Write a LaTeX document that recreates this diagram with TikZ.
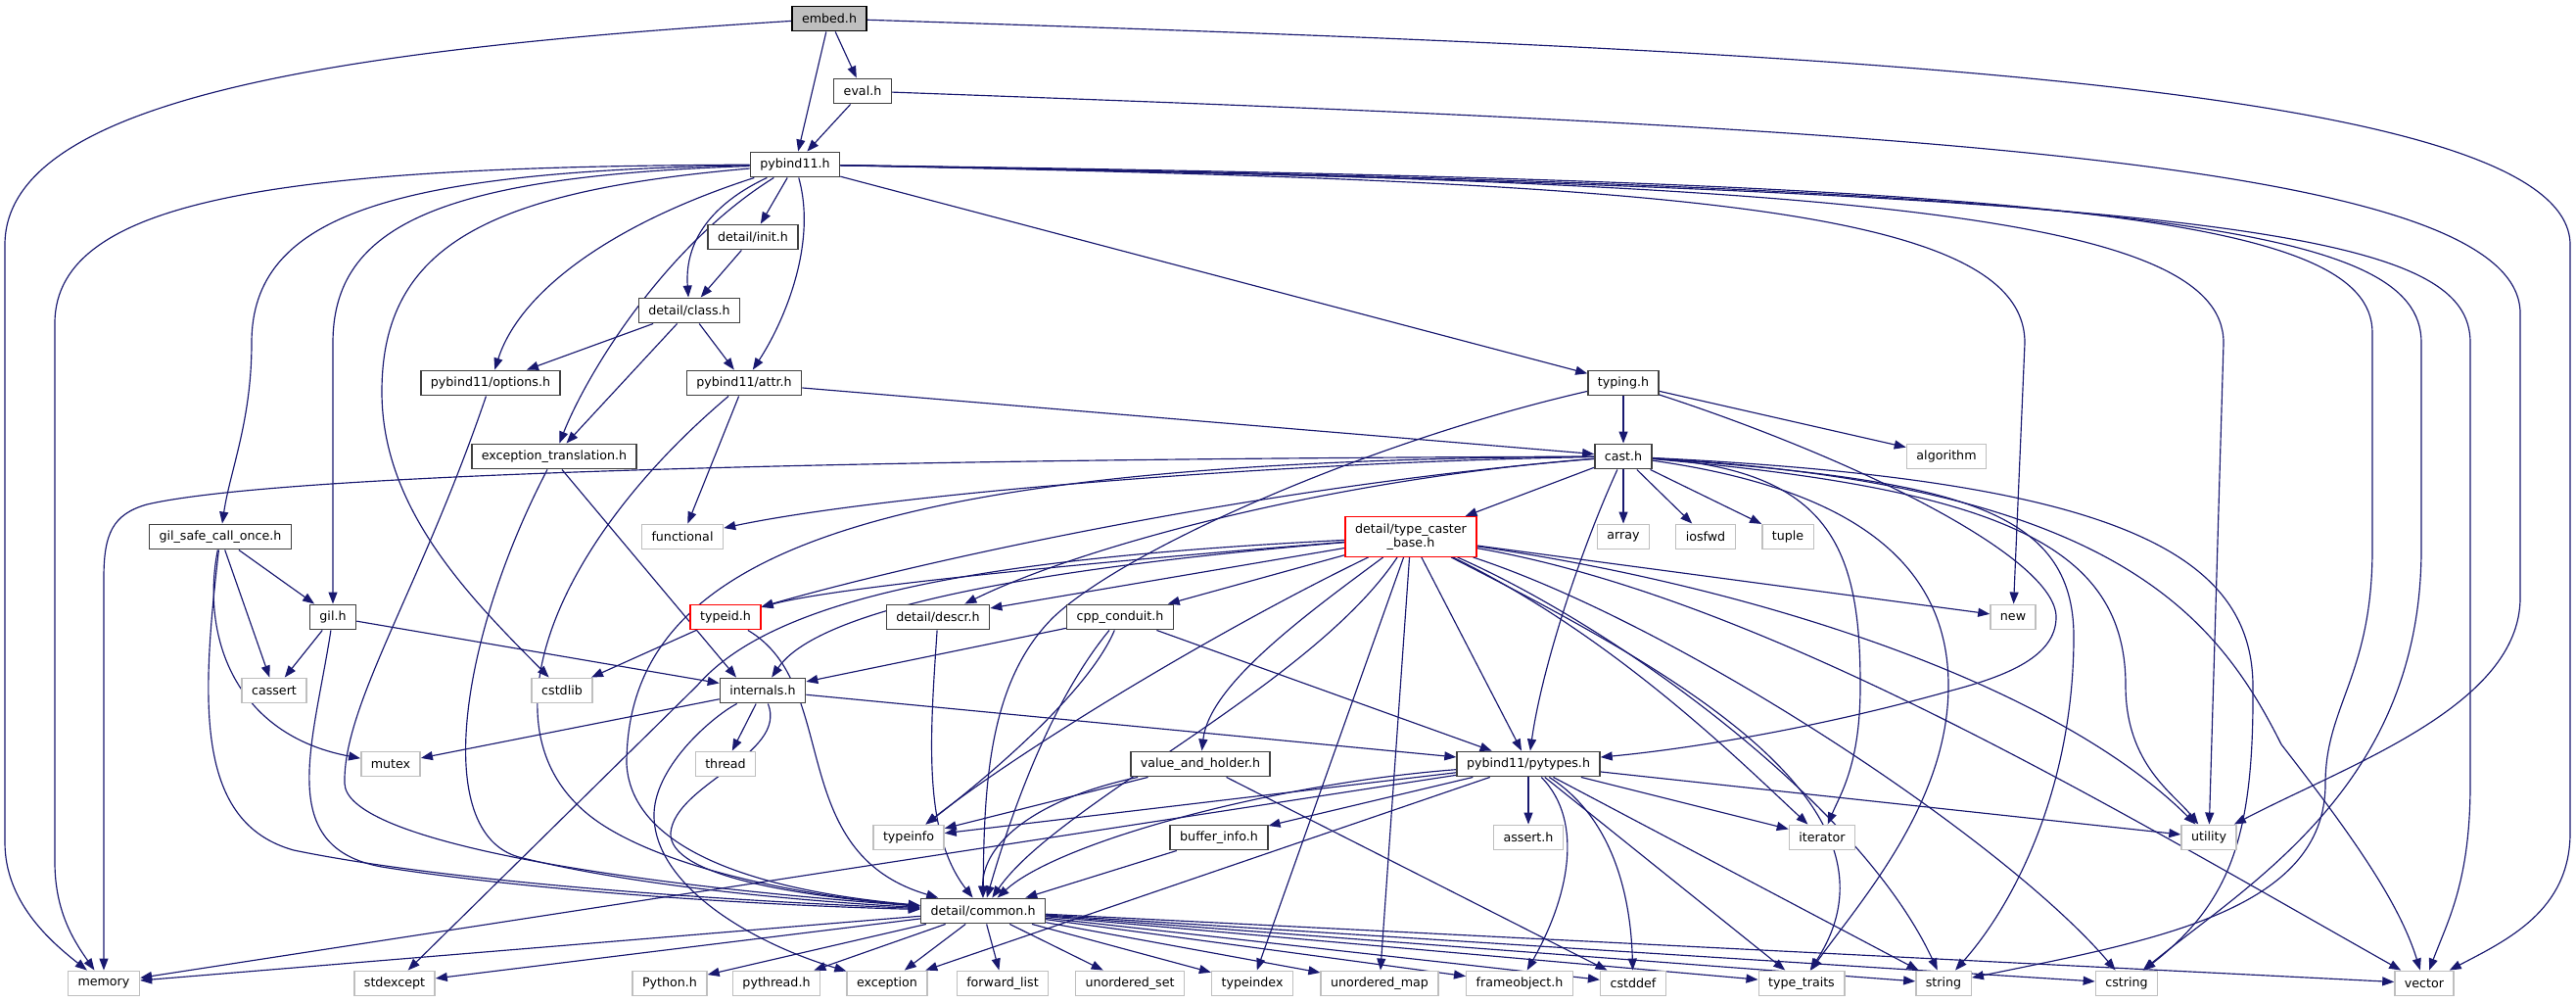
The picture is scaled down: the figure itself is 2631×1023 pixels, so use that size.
\documentclass[tikz,border=0pt]{standalone}
\usepackage{fontspec}
\setmainfont{DejaVu Sans}
\usetikzlibrary{arrows.meta, backgrounds}

\definecolor{edgeblue}{HTML}{191970}
\definecolor{sysgray}{HTML}{BFBFBF}
\definecolor{boxgray}{HTML}{404040}

\begin{document}
\begin{tikzpicture}[
    x=0.01cm, y=-0.01cm,
    hdr/.style={rectangle, draw=boxgray, fill=white, line width=0.4pt,
                minimum height=0.255cm, inner xsep=0.1cm, inner ysep=0pt,
                align=center, font=\fontsize{3.6pt}{3.8pt}\selectfont},
    root/.style={hdr, draw=black, fill=sysgray},
    sys/.style={hdr, draw=sysgray},
    trunc/.style={hdr, draw=red},
    dep/.style={-{Triangle[length=1.2mm, width=0.9mm]}, draw=edgeblue, line width=0.33pt},
]
    \useasboundingbox (0,0) rectangle (2631,1023);

    % --- Top rows ---
    \node[root]  (embed)   at (847,19)   {embed.h};
    \node[hdr]   (eval)    at (881,93)   {eval.h};
    \node[hdr]   (pyb)     at (812,168)  {pybind11.h};
    \node[hdr]   (init)    at (769,242)  {detail/init.h};
    \node[hdr]   (class)   at (704,317)  {detail/class.h};
    \node[hdr]   (options) at (501,391)  {pybind11/options.h};
    \node[hdr]   (attr)    at (760,391)  {pybind11/attr.h};
    \node[hdr]   (typing)  at (1658,391) {typing.h};
    \node[hdr]   (exctr)   at (566,466)  {exception\_translation.h};
    \node[hdr]   (cast)    at (1658,466) {cast.h};
    \node[sys]   (algorithm) at (1988,466) {algorithm};

    % --- Middle rows ---
    \node[hdr]   (gilsafe)    at (225,548)  {gil\_safe\_call\_once.h};
    \node[sys]   (functional) at (697,548)  {functional};
    \node[trunc, minimum height=0.405cm] (tcb) at (1441,548) {detail/type\_caster\\\_base.h};
    \node[sys]   (array)   at (1658,548) {array};
    \node[sys]   (iosfwd)  at (1742,548) {iosfwd};
    \node[sys]   (tuple)   at (1826,548) {tuple};
    \node[hdr]   (gil)     at (340,630)  {gil.h};
    \node[trunc] (typeid)  at (741,630)  {typeid.h};
    \node[hdr]   (descr)   at (958,630)  {detail/descr.h};
    \node[hdr]   (conduit) at (1144,630) {cpp\_conduit.h};
    \node[sys]   (new)     at (2056,630) {new};
    \node[sys]   (cassert) at (280,705)  {cassert};
    \node[sys]   (cstdlib) at (574,705)  {cstdlib};
    \node[hdr]   (internals) at (779,705) {internals.h};
    \node[sys]   (mutex)   at (399,780)  {mutex};
    \node[sys]   (thread)  at (741,780)  {thread};
    \node[hdr]   (vah)     at (1226,780) {value\_and\_holder.h};
    \node[hdr]   (pytypes) at (1561,780) {pybind11/pytypes.h};
    \node[sys]   (typeinfo) at (928,855) {typeinfo};
    \node[hdr]   (bufinfo) at (1245,855) {buffer\_info.h};
    \node[sys]   (asserth) at (1561,855) {assert.h};
    \node[sys]   (iterator) at (1861,855) {iterator};
    \node[sys]   (utility) at (2256,855) {utility};
    \node[hdr]   (common)  at (1004,930) {detail/common.h};

    % --- Bottom row ---
    \node[sys] (memory)     at (106,1004)  {memory};
    \node[sys] (stdexcept)  at (403,1004)  {stdexcept};
    \node[sys] (pythonh)    at (684,1004)  {Python.h};
    \node[sys] (pythread)   at (793,1004)  {pythread.h};
    \node[sys] (exception)  at (906,1004)  {exception};
    \node[sys] (fwdlist)    at (1024,1004) {forward\_list};
    \node[sys] (uset)       at (1154,1004) {unordered\_set};
    \node[sys] (typeindex)  at (1279,1004) {typeindex};
    \node[sys] (umap)       at (1409,1004) {unordered\_map};
    \node[sys] (frameobj)   at (1552,1004) {frameobject.h};
    \node[sys] (cstddef)    at (1668,1004) {cstddef};
    \node[sys] (typetraits) at (1840,1004) {type\_traits};
    \node[sys] (string)     at (1985,1004) {string};
    \node[sys] (cstring)    at (2172,1004) {cstring};
    \node[sys] (vector)     at (2476,1004) {vector};

    \begin{scope}[on background layer]
    % embed.h
    \draw[dep] (embed) -- (pyb);
    \draw[dep] (embed) -- (eval);
    \draw[dep] (embed) .. controls (350,50) and (5,100) .. (5,250) -- (5,860) .. controls (5,920) and (50,960) .. (memory);
    \draw[dep] (embed) .. controls (1800,50) and (2625,80) .. (2625,250) -- (2625,850) .. controls (2625,930) and (2560,960) .. (vector);

    % eval.h
    \draw[dep] (eval) -- (pyb);
    \draw[dep] (eval) .. controls (1900,130) and (2574,160) .. (2574,320) -- (2574,610) .. controls (2574,720) and (2400,780) .. (utility);

    % pybind11.h
    \draw[dep] (pyb) -- (init);
    \draw[dep] (pyb) .. controls (712,215) and (700,260) .. (class);
    \draw[dep] (pyb) .. controls (835,250) and (800,330) .. (attr);
    \draw[dep] (pyb) .. controls (620,230) and (530,300) .. (options);
    \draw[dep] (pyb) .. controls (680,250) and (600,380) .. (exctr);
    \draw[dep] (pyb) .. controls (500,195) and (390,250) .. (390,400) .. controls (390,520) and (480,610) .. (cstdlib);
    \draw[dep] (pyb) .. controls (450,180) and (340,230) .. (340,350) -- (gil);
    \draw[dep] (pyb) .. controls (400,175) and (257,220) .. (257,350) .. controls (257,430) and (235,480) .. (gilsafe);
    \draw[dep] (pyb) .. controls (300,170) and (56,200) .. (56,330) -- (56,880) .. controls (56,930) and (75,960) .. (memory);
    \draw[dep] (pyb) -- (typing);
    \draw[dep] (pyb) .. controls (1700,185) and (2068,210) .. (2068,350) -- (new);
    \draw[dep] (pyb) .. controls (1900,185) and (2271,220) .. (2271,350) -- (utility);
    \draw[dep] (pyb) .. controls (2100,185) and (2423,220) .. (2423,340) -- (2423,560) .. controls (2423,690) and (2375,720) .. (2375,800) .. controls (2375,930) and (2200,960) .. (string);
    \draw[dep] (pyb) .. controls (2200,190) and (2473,230) .. (2473,350) -- (2473,560) .. controls (2473,800) and (2300,900) .. (cstring);
    \draw[dep] (pyb) .. controls (2300,195) and (2523,240) .. (2523,350) -- (2523,800) .. controls (2523,900) and (2500,940) .. (vector);

    % detail/init.h, detail/class.h
    \draw[dep] (init) -- (class);
    \draw[dep] (class) -- (options);
    \draw[dep] (class) -- (exctr);
    \draw[dep] (class) -- (attr);

    % options, attr, exception_translation
    \draw[dep] (options) .. controls (430,600) and (350,720) .. (352,800) .. controls (354,855) and (600,900) .. (common);
    \draw[dep] (attr) -- (cast);
    \draw[dep] (attr) -- (functional);
    \draw[dep] (attr) .. controls (560,560) and (480,760) .. (620,845) .. controls (690,888) and (820,915) .. (common);
    \draw[dep] ([xshift=0.08cm]exctr.south) -- ([xshift=-0.27cm]internals.north);
    \draw[dep] (exctr) .. controls (470,650) and (440,850) .. (530,875) .. controls (650,905) and (820,920) .. (common);

    % gil_safe_call_once.h, gil.h
    \draw[dep] (gilsafe) -- (gil);
    \draw[dep] (gilsafe) -- (cassert);
    \draw[dep] (gilsafe) .. controls (205,650) and (240,750) .. (mutex);
    \draw[dep] (gilsafe) .. controls (205,720) and (200,840) .. (300,868) .. controls (480,905) and (800,922) .. (common);
    \draw[dep] (gil) -- (cassert);
    \draw[dep] (gil) -- (internals);
    \draw[dep] (gil) .. controls (320,760) and (280,865) .. (390,885) .. controls (560,912) and (800,925) .. (common);

    % typing.h
    \draw[dep] (typing) -- (cast);
    \draw[dep] (typing) -- (algorithm);
    \draw[dep] (typing) .. controls (1900,470) and (2100,570) .. (2100,630) .. controls (2100,670) and (2050,690) .. (1993,705) .. controls (1850,745) and (1720,765) .. (pytypes);
    \draw[dep] (typing) .. controls (1400,450) and (1150,560) .. (1076,630) .. controls (1010,695) and (1005,800) .. (common);

    % cast.h
    \draw[dep] (cast) -- (tcb);
    \draw[dep] (cast) -- (array);
    \draw[dep] (cast) -- (iosfwd);
    \draw[dep] (cast) -- (tuple);
    \draw[dep] (cast) .. controls (1300,472) and (900,505) .. (functional);
    \draw[dep] (cast) .. controls (1000,468) and (300,480) .. (150,515) .. controls (115,525) and (106,545) .. (106,590) -- (memory);
    \draw[dep] (cast) .. controls (900,470) and (640,560) .. (640,780) .. controls (645,870) and (780,910) .. (common);
    \draw[dep] (cast) .. controls (1350,490) and (1100,560) .. (descr);
    \draw[dep] (cast) .. controls (1300,495) and (950,570) .. (typeid);
    \draw[dep] (cast) .. controls (1615,560) and (1575,680) .. (pytypes);
    \draw[dep] (cast) .. controls (1870,480) and (1900,560) .. (1900,700) .. controls (1900,780) and (1880,810) .. (iterator);
    \draw[dep] (cast) .. controls (1900,500) and (1990,580) .. (1990,700) .. controls (1990,820) and (1900,920) .. (typetraits);
    \draw[dep] (cast) .. controls (2000,490) and (2118,520) .. (2118,650) .. controls (2118,800) and (2060,920) .. (string);
    \draw[dep] (cast) .. controls (2050,500) and (2171,560) .. (2171,700) .. controls (2171,780) and (2220,810) .. (utility);
    \draw[dep] (cast) .. controls (2150,490) and (2300,560) .. (2301,700) .. controls (2302,850) and (2280,920) .. (cstring);
    \draw[dep] (cast) .. controls (2150,495) and (2260,620) .. (2330,760) .. controls (2400,850) and (2450,920) .. (vector);

    % detail/type_caster_base.h
    \draw[dep] (tcb) -- (descr);
    \draw[dep] (tcb) -- (conduit);
    \draw[dep] (tcb) .. controls (1100,575) and (850,600) .. (typeid);
    \draw[dep] (tcb) .. controls (1000,585) and (830,630) .. (internals);
    \draw[dep] (tcb) .. controls (1000,570) and (790,610) .. (712,700) -- (stdexcept);
    \draw[dep] (tcb) .. controls (1330,630) and (1235,700) .. (vah);
    \draw[dep] (tcb) .. controls (1250,640) and (1050,760) .. (typeinfo);
    \draw[dep] (tcb) .. controls (1340,700) and (1080,820) .. (common);
    \draw[dep] (tcb) -- (typeindex);
    \draw[dep] (tcb) -- (umap);
    \draw[dep] (tcb) -- (pytypes);
    \draw[dep] (tcb) -- (new);
    \draw[dep] (tcb) .. controls (1650,650) and (1780,780) .. (iterator);
    \draw[dep] (tcb) .. controls (1700,680) and (1960,820) .. (typetraits);
    \draw[dep] (tcb) .. controls (1650,640) and (1900,820) .. (string);
    \draw[dep] (tcb) .. controls (1720,640) and (2050,860) .. (cstring);
    \draw[dep] (tcb) .. controls (1800,600) and (2100,700) .. (utility);
    \draw[dep] (tcb) .. controls (1800,610) and (2150,820) .. (vector);

    % descr, conduit, typeid, internals
    \draw[dep] (descr) .. controls (950,750) and (942,850) .. (common);
    \draw[dep] (conduit) -- (internals);
    \draw[dep] (conduit) -- (pytypes);
    \draw[dep] (conduit) .. controls (1110,710) and (1000,800) .. (typeinfo);
    \draw[dep] (conduit) .. controls (1070,720) and (1030,840) .. (common);
    \draw[dep] (typeid) -- (cstdlib);
    \draw[dep] (typeid) .. controls (860,700) and (800,870) .. (common);
    \draw[dep] (internals) -- (mutex);
    \draw[dep] (internals) -- (thread);
    \draw[dep] (internals) -- (pytypes);
    \draw[dep] (internals) .. controls (730,730) and (670,780) .. (668,830) .. controls (666,900) and (760,960) .. (exception);
    \draw[dep] (internals) .. controls (805,770) and (690,800) .. (685,850) .. controls (682,895) and (820,915) .. (common);

    % value_and_holder.h, pytypes.h, buffer_info.h
    \draw[dep] (vah) -- (typeinfo);
    \draw[dep] (vah) .. controls (1060,815) and (1003,860) .. (common);
    \draw[dep] (vah) -- (cstddef);
    \draw[dep] (pytypes) -- (typeinfo);
    \draw[dep] (pytypes) -- (memory);
    \draw[dep] (pytypes) .. controls (1300,800) and (1080,860) .. (common);
    \draw[dep] (pytypes) -- (bufinfo);
    \draw[dep] (pytypes) -- (exception);
    \draw[dep] (pytypes) -- (asserth);
    \draw[dep] (pytypes) .. controls (1620,840) and (1600,920) .. (frameobj);
    \draw[dep] (pytypes) .. controls (1640,830) and (1665,900) .. (cstddef);
    \draw[dep] (pytypes) -- (typetraits);
    \draw[dep] (pytypes) -- (string);
    \draw[dep] (pytypes) -- (iterator);
    \draw[dep] (pytypes) -- (utility);
    \draw[dep] (bufinfo) -- (common);

    % detail/common.h
    \draw[dep] (common) -- (memory);
    \draw[dep] (common) -- (stdexcept);
    \draw[dep] (common) -- (pythonh);
    \draw[dep] (common) -- (pythread);
    \draw[dep] (common) -- (exception);
    \draw[dep] (common) -- (fwdlist);
    \draw[dep] (common) -- (uset);
    \draw[dep] (common) -- (typeindex);
    \draw[dep] (common) -- (umap);
    \draw[dep] (common) -- (frameobj);
    \draw[dep] (common) -- (cstddef);
    \draw[dep] (common) -- (typetraits);
    \draw[dep] (common) -- (string);
    \draw[dep] (common) -- (cstring);
    \draw[dep] (common) -- (vector);
    \end{scope}
\end{tikzpicture}
\end{document}
